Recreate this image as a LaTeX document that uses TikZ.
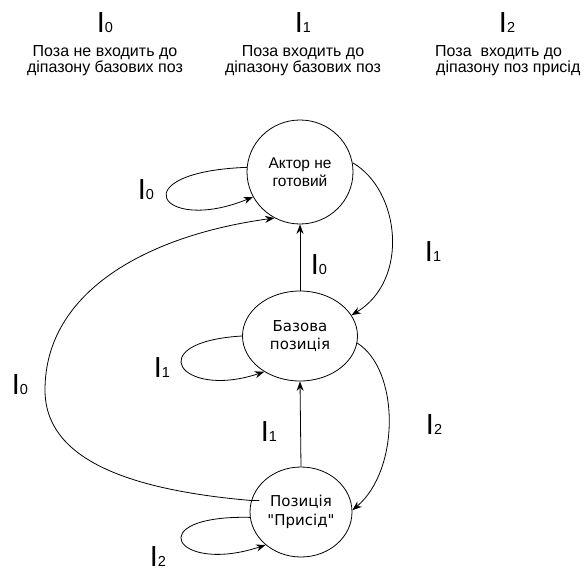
\documentclass[tikz,border=0pt]{standalone}
\usepackage{fontspec}
\setmainfont{Liberation Sans}
\newfontfamily\dvsfont{DejaVu Sans}
\usetikzlibrary{arrows.meta,shapes.geometric}
\newcommand{\Ilab}[1]{{\fontsize{29}{29}\selectfont I}{\fontsize{14.5}{14.5}\selectfont #1}}
\begin{document}
\begin{tikzpicture}[x=1pt,y=-1pt,
  state/.style={draw, ellipse, line width=0.8pt, inner sep=0pt, align=center},
  arr/.style={-{Stealth[length=9.5pt,width=7pt]}, line width=0.8pt},
  lbl/.style={inner sep=0pt},
  desc/.style={inner sep=0pt, font=\fontsize{16}{17}\selectfont}]
\useasboundingbox (0,0) rectangle (584,575);

% states
\node[state, minimum width=106pt, minimum height=104pt, font=\fontsize{15.5}{18}\selectfont] (A) at (300,172) {Актор не\\готовий};
\node[state, minimum width=115pt, minimum height=90pt, font=\dvsfont\fontsize{15}{18}\selectfont] (B) at (300,336) {Базова\\позиція};
\node[state, minimum width=102pt, minimum height=90pt, font=\dvsfont\fontsize{15}{19}\selectfont] (C) at (301,512) {Позиція\\"Присід"};

% straight transitions
\draw[arr] (B.north) -- (A.south);
\draw[arr] (C.north) -- (B.south);

% self loops
\draw[arr] (A.175) .. controls (120,172) and (160,235) .. (A.208);
\draw[arr] (B.180) .. controls (140,342) and (180,400) .. (B.225);
\draw[arr] (C.186) .. controls (140,515) and (175,575) .. (C.223);

% right arcs
\draw[arr] (A.10) .. controls (400,190) and (410,280) .. (B.22);
\draw[arr] (B.353) .. controls (400,370) and (400,470) .. (C.2);

% big left arc
\coordinate (far) at (45,390);
\draw[arr] ([xshift=8pt]C.167) -- (C.167) .. controls (130,490) and (45,460) .. (far)
  .. controls (45,290) and (150,235) .. (A.241);

% transition labels
\node[lbl] (l1) at (146,190) {\Ilab{0}};
\node[lbl] (l2) at (433,252) {\Ilab{1}};
\node[lbl] (l3) at (319,265) {\Ilab{0}};
\node[lbl] (l4) at (162,368) {\Ilab{1}};
\node[lbl] (l5) at (20,385) {\Ilab{0}};
\node[lbl] (l6) at (269,432) {\Ilab{1}};
\node[lbl] (l7) at (434,425) {\Ilab{2}};
\node[lbl] (l8) at (158,557) {\Ilab{2}};

% legend
\node[lbl, anchor=base] (t0) at (105,33) {\Ilab{0}};
\node[lbl, anchor=base] (t1) at (303,33) {\Ilab{1}};
\node[lbl, anchor=base] (t2) at (507,33) {\Ilab{2}};
\node[desc, anchor=base] (d0a) at (105,57) {Поза не входить до};
\node[desc, anchor=base] (d0b) at (105,73) {діпазону базових поз};
\node[desc, anchor=base] (d1a) at (303,57) {Поза входить до};
\node[desc, anchor=base] (d1b) at (303,73) {діпазону базових поз};
\node[desc, anchor=base west] (d2a) at (435,57) {Поза\ \ входить до};
\node[desc, anchor=base west] (d2b) at (436,73) {діпазону поз присід};
\end{tikzpicture}
\end{document}
